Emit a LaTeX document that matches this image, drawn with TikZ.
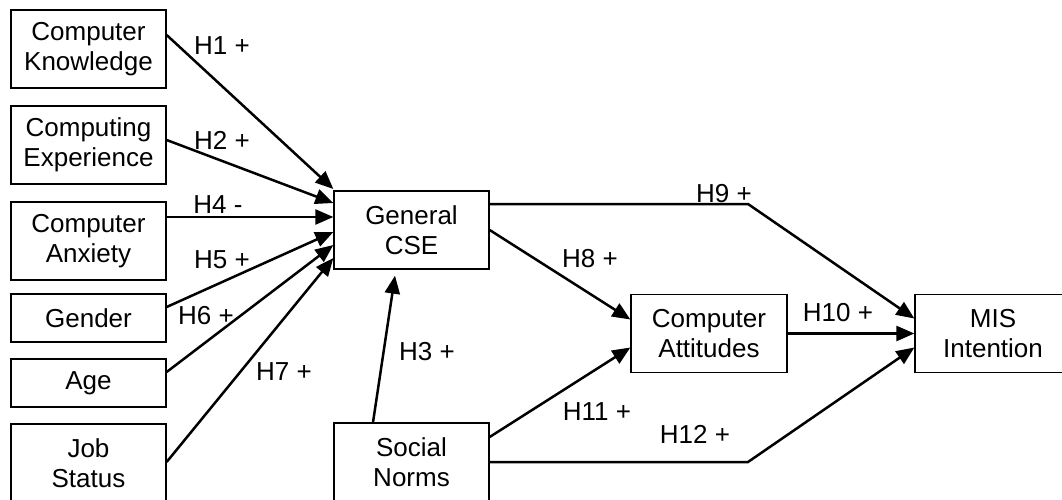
\documentclass[tikz,border=0pt]{standalone}
\usepackage{fontspec}
\setmainfont{Liberation Sans}
\usetikzlibrary{arrows.meta,calc}
\begin{document}
\begin{tikzpicture}[x=1pt,y=-1pt,
  box/.style={draw,line width=1.3pt,minimum width=155pt,align=center,inner sep=0pt,
    font=\fontsize{26}{30}\selectfont},
  tall/.style={box,minimum height=78pt},
  short/.style={box,minimum height=48pt},
  conn/.style={line width=2.5pt,-{Triangle[length=18pt,width=15pt]}},
  lbl/.style={font=\fontsize{26}{30}\selectfont,inner sep=0pt}]
\useasboundingbox (0,0) rectangle (1062,500);
\clip (0,0) rectangle (1062,500);
\node[tall]  (ck)  at (88.5,49)  {Computer\\Knowledge};
\node[tall]  (ce)  at (88.5,145) {Computing\\Experience};
\node[tall]  (ca)  at (88.5,241) {Computer\\Anxiety};
\node[short] (gen) at (88.5,318) {Gender};
\node[short] (age) at (88.5,383) {Age};
\node[tall]  (js)  at (88.5,463) {Job\\Status};
\node[tall]  (cse) at (411.5,230) {General\\CSE};
\node[tall]  (sn)  at (411.5,462) {Social\\Norms};
\node[tall,minimum width=156pt] (att) at (709,333.5) {Computer\\Attitudes};
\node[tall,minimum width=156pt] (mis) at (993,333.5) {MIS\\Intention};
\coordinate (b9) at (748,204);
\coordinate (b12) at (748,462);
\draw[conn] ($(ck.east)+(0,-14)$) -- ($(cse.west)+(0,-41)$);
\draw[conn] ($(ce.east)+(0,-5)$) -- ($(cse.west)+(0,-27)$);
\draw[conn] ($(ca.east)+(0,-24)$) -- ($(cse.west)+(0,-13)$);
\draw[conn] ($(gen.east)+(0,-11)$) -- ($(cse.west)+(0,2)$);
\draw[conn] ($(age.east)+(0,-11)$) -- ($(cse.west)+(0,15)$);
\draw[conn] ($(js.east)+(0,-1)$) -- ($(cse.west)+(0,28)$);
\draw[conn] ($(sn.north)+(-38.5,0)$) -- ($(cse.south)+(-16.5,6)$);
\draw[conn] (cse.east) -- ($(att.west)+(0,-14)$);
\draw[conn] ($(cse.east)+(0,-26)$) -- (b9) -- ($(mis.west)+(0,-15)$);
\draw[conn] (att.east) -- (mis.west);
\draw[conn] ($(sn.east)+(0,-25)$) -- ($(att.west)+(0,14)$);
\draw[conn] (sn.east) -- (b12) -- ($(mis.west)+(0,14)$);
\node[lbl] (l1)  at (222,46)  {H1 +};
\node[lbl] (l2)  at (222,140) {H2 +};
\node[lbl] (l4)  at (218,205) {H4 -};
\node[lbl] (l5)  at (222,260) {H5 +};
\node[lbl] (l6)  at (206,316) {H6 +};
\node[lbl] (l7)  at (284,372) {H7 +};
\node[lbl] (l3)  at (427,352) {H3 +};
\node[lbl] (l8)  at (590,259) {H8 +};
\node[lbl] (l9)  at (724,194) {H9 +};
\node[lbl] (l10) at (838,313) {H10 +};
\node[lbl] (l11) at (597,412) {H11 +};
\node[lbl] (l12) at (695,434) {H12 +};
\end{tikzpicture}
\end{document}
